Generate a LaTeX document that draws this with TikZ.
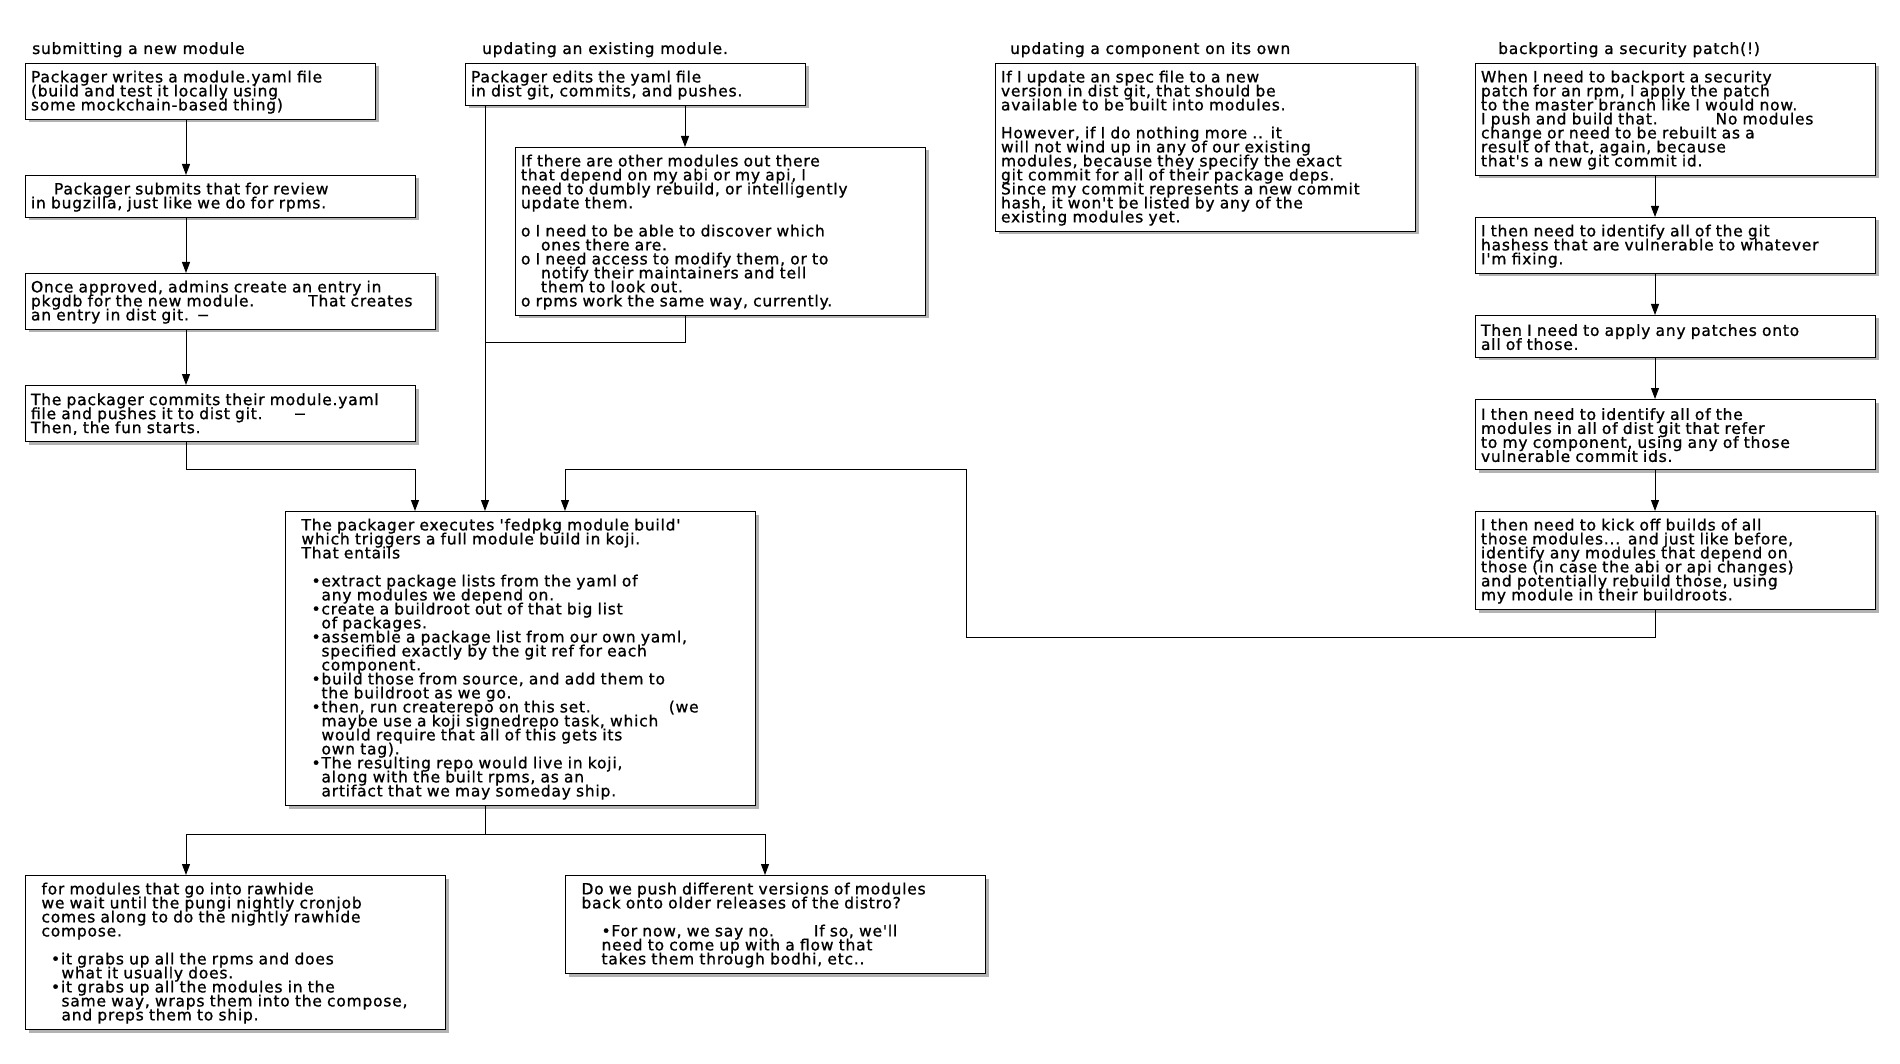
\documentclass[tikz,border=0pt]{standalone}
\usepackage{fontspec}
\newfontfamily\dv{DejaVu Sans}[LetterSpace=5,Ligatures=TeXOff,FakeBold=1]
\usetikzlibrary{arrows.meta,shadows}
% box with its top-left corner at (x,y): name, x, y, width, height, text width, text
\newcommand\flowbox[7]{%
  \node[box,minimum width=#4pt,minimum height=#5pt,text width=#6pt] (#1) at (#2,#3) {#7};}
% fixed line pitch, even where lines overlap
\newcommand\tightlines{\lineskiplimit=-50pt\lineskip=0pt\normallineskiplimit=-50pt}
\begin{document}
\begin{tikzpicture}[x=1pt,y=-1pt,
  txt/.style={font=\dv\fontsize{15.5}{14}\selectfont\tightlines},
  box/.style={txt,draw=black,line width=1pt,fill=white,anchor=north west,
    align=left,inner xsep=5.5pt,inner ysep=0pt,
    drop shadow={shadow xshift=3pt,shadow yshift=-3pt,opacity=0.3,fill=black},
    execute at begin node={\rule{0pt}{13pt}}},
  heading/.style={txt,anchor=base west,inner sep=0pt},
  conn/.style={line width=1pt},
  arr/.style={conn,-{Triangle[length=11pt,width=8pt]}}]

\useasboundingbox (0,0) rectangle (1900,1064);
\fill[white] (0,0) rectangle (1900,1064);

% column headings
\node[heading] (h1) at (32,54) {submitting a new module};
\node[heading] (h2) at (482,54) {updating an existing module.};
\node[heading] (h3) at (1010,54) {updating a component on its own};
\node[heading] (h4) at (1498,54) {backporting a security patch(!)};

% connector columns and bus lines
\coordinate (colL) at (186,0);
\coordinate (colA) at (485,0);
\coordinate (colA2) at (685,0);
\coordinate (colR) at (1655,0);
\coordinate (inL) at (415,0);
\coordinate (inR) at (565,0);
\coordinate (retX) at (966,0);
\coordinate (colB2) at (765,0);
\coordinate (busTop) at (0,469);
\coordinate (joinA) at (0,343);
\coordinate (retBot) at (0,637);
\coordinate (busBot) at (0,834);

% submitting a new module
\flowbox{l1}{25}{63}{350}{56}{339}{Packager writes a module.yaml file\\
(build and test it locally using\\
some mockchain-based thing)}
\flowbox{l2}{25}{175}{390}{42}{379}{\hspace*{23pt}Packager submits that for review\\
in bugzilla, just like we do for rpms.}
\flowbox{l3}{25}{273}{410}{56}{399}{Once approved, admins create an entry in\\
pkgdb for the new module.\hspace{54pt}That creates\\
an entry in dist git. −}
\flowbox{l4}{25}{385}{390}{56}{379}{The packager commits their module.yaml\\
file and pushes it to dist git.\hspace{31pt}−\\
Then, the fun starts.}

% updating an existing module
\flowbox{a1}{465}{63}{340}{42}{329}{Packager edits the yaml file\\
in dist git, commits, and pushes.}
\flowbox{a2}{515}{147}{410}{168}{399}{If there are other modules out there\\
that depend on my abi or my api, I\\
need to dumbly rebuild, or intelligently\\
update them.\\[14pt]
o I need to be able to discover which\\
\hspace*{20pt}ones there are.\\
o I need access to modify them, or to\\
\hspace*{20pt}notify their maintainers and tell\\
\hspace*{20pt}them to look out.\\
o rpms work the same way, currently.}

% updating a component on its own
\flowbox{c1}{995}{63}{420}{168}{409}{If I update an spec file to a new\\
version in dist git, that should be\\
available to be built into modules.\\[14pt]
However, if I do nothing more .. it\\
will not wind up in any of our existing\\
modules, because they specify the exact\\
git commit for all of their package deps.\\
Since my commit represents a new commit\\
hash, it won't be listed by any of the\\
existing modules yet.}

% backporting a security patch
\flowbox{d1}{1475}{63}{400}{112}{389}{When I need to backport a security\\
patch for an rpm, I apply the patch\\
to the master branch like I would now.\\
I push and build that.\hspace{58pt}No modules\\
change or need to be rebuilt as a\\
result of that, again, because\\
that's a new git commit id.}
\flowbox{d2}{1475}{217}{400}{56}{389}{I then need to identify all of the git\\
hashess that are vulnerable to whatever\\
I'm fixing.}
\flowbox{d3}{1475}{315}{400}{42}{389}{Then I need to apply any patches onto\\
all of those.}
\flowbox{d4}{1475}{399}{400}{70}{389}{I then need to identify all of the\\
modules in all of dist git that refer\\
to my component, using any of those\\
vulnerable commit ids.}
\flowbox{d5}{1475}{511}{400}{98}{389}{I then need to kick off builds of all\\
those modules... and just like before,\\
identify any modules that depend on\\
those (in case the abi or api changes)\\
and potentially rebuild those, using\\
my module in their buildroots.}

% the module build
\flowbox{m}{285}{511}{470}{294}{459}{\hspace*{10.5pt}The packager executes 'fedpkg module build'\\
\hspace*{10.5pt}which triggers a full module build in koji.\\
\hspace*{10.5pt}That entails\\[14pt]
\hspace*{20.5pt}•extract package lists from the yaml of\\
\hspace*{30.5pt}any modules we depend on.\\
\hspace*{20.5pt}•create a buildroot out of that big list\\
\hspace*{30.5pt}of packages.\\
\hspace*{20.5pt}•assemble a package list from our own yaml,\\
\hspace*{30.5pt}specified exactly by the git ref for each\\
\hspace*{30.5pt}component.\\
\hspace*{20.5pt}•build those from source, and add them to\\
\hspace*{30.5pt}the buildroot as we go.\\
\hspace*{20.5pt}•then, run createrepo on this set.\hspace{78pt}(we\\
\hspace*{30.5pt}maybe use a koji signedrepo task, which\\
\hspace*{30.5pt}would require that all of this gets its\\
\hspace*{30.5pt}own tag).\\
\hspace*{20.5pt}•The resulting repo would live in koji,\\
\hspace*{30.5pt}along with the built rpms, as an\\
\hspace*{30.5pt}artifact that we may someday ship.}

% after the build
\flowbox{b1}{25}{875}{420}{154}{409}{\hspace*{10.5pt}for modules that go into rawhide\\
\hspace*{10.5pt}we wait until the pungi nightly cronjob\\
\hspace*{10.5pt}comes along to do the nightly rawhide\\
\hspace*{10.5pt}compose.\\[14pt]
\hspace*{20pt}•it grabs up all the rpms and does\\
\hspace*{30.5pt}what it usually does.\\
\hspace*{20pt}•it grabs up all the modules in the\\
\hspace*{30.5pt}same way, wraps them into the compose,\\
\hspace*{30.5pt}and preps them to ship.}
\flowbox{b2}{565}{875}{420}{98}{409}{\hspace*{10.5pt}Do we push different versions of modules\\
\hspace*{10.5pt}back onto older releases of the distro?\\[14pt]
\hspace*{30.5pt}•For now, we say no.\hspace{40pt}If so, we'll\\
\hspace*{30.5pt}need to come up with a flow that\\
\hspace*{30.5pt}takes them through bodhi, etc..}

% connectors: submitting a new module
\draw[arr] (l1.south -| colL) -- (l2.north -| colL);
\draw[arr] (l2.south -| colL) -- (l3.north -| colL);
\draw[arr] (l3.south -| colL) -- (l4.north -| colL);
\draw[arr] (l4.south -| colL) -- (colL |- busTop) -| (m.north -| inL);

% connectors: updating an existing module
\draw[arr] (a1.south -| colA2) -- (a2.north -| colA2);
\draw[arr] (a1.south -| colA) -- (m.north -| colA);
\draw[conn] (a2.south -| colA2) |- (colA |- joinA);

% connectors: backporting a security patch
\draw[arr] (d1.south -| colR) -- (d2.north -| colR);
\draw[arr] (d2.south -| colR) -- (d3.north -| colR);
\draw[arr] (d3.south -| colR) -- (d4.north -| colR);
\draw[arr] (d4.south -| colR) -- (d5.north -| colR);
\draw[arr] (d5.south -| colR) |- (retX |- retBot) |- (inR |- busTop) -- (m.north -| inR);

% connectors: after the build
\draw[conn] (m.south -| colA) -- (colA |- busBot);
\draw[arr] (colA |- busBot) -| (b1.north -| colL);
\draw[arr] (colA |- busBot) -| (b2.north -| colB2);
\end{tikzpicture}
\end{document}
